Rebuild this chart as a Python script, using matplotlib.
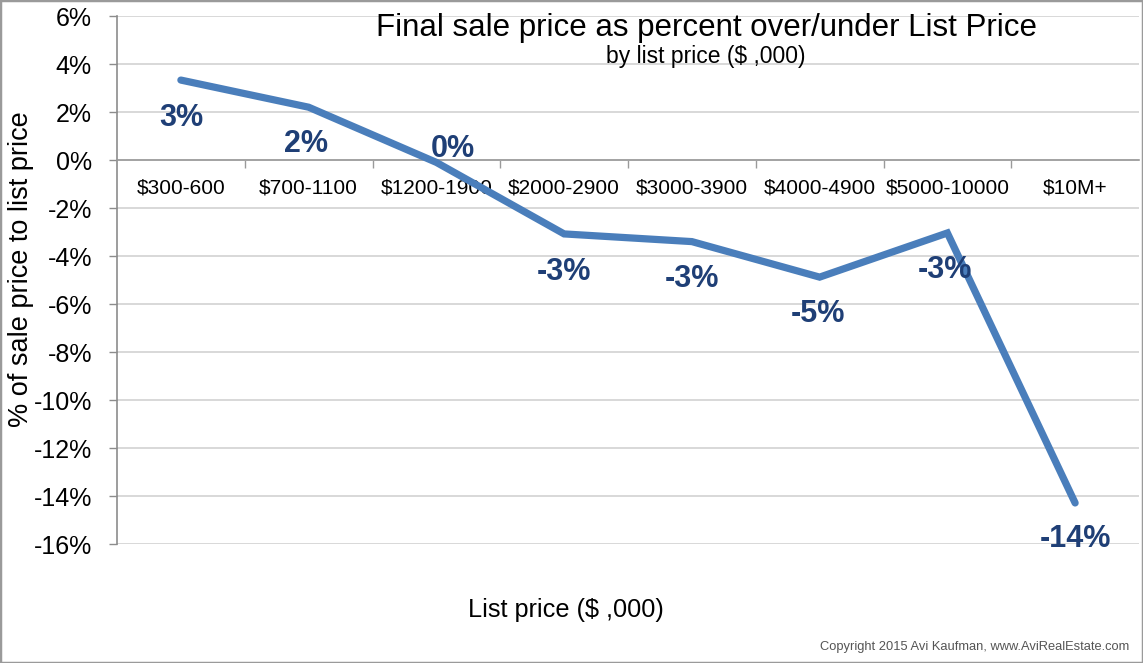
import matplotlib
matplotlib.use("Agg")
import numpy as np
import matplotlib.pyplot as plt
from matplotlib.patches import Rectangle
from matplotlib.ticker import FixedLocator

# data
categories = ["$300-600", "$700-1100", "$1200-1900", "$2000-2900",
              "$3000-3900", "$4000-4900", "$5000-10000", "$10M+"]
pct_over_list = [3.33, 2.2, -0.1, -3.08, -3.4, -4.88, -3.04, -14.29]
point_labels = ["3%", "2%", "0%", "-3%", "-3%", "-5%", "-3%", "-14%"]

# label offsets in pixels (keynote puts them under the point, 0% was moved)
label_dx = [0, -3, 16, 0, 0, -2, -2, 0]
label_dy = [-38, -37, 13, -38, -37, -37, -37, -36]

plt.rcParams['font.family'] = ['Liberation Sans', 'DejaVu Sans']

W, H = 1143, 663
fig = plt.figure(figsize=(W / 100, H / 100), dpi=100)
ax = fig.add_axes([117 / W, 119 / H, (1139 - 117) / W, (544 - 16) / H])

x = np.arange(len(categories))
ax.plot(x, pct_over_list, color='#4a7ebb', lw=5.2, solid_capstyle='round',
        solid_joinstyle='miter', zorder=3)

for xi, yi, lab, dx, dy in zip(x, pct_over_list, point_labels, label_dx, label_dy):
    ax.annotate(lab, (xi, yi), xytext=(dx, dy), textcoords='offset pixels',
                ha='center', va='center', fontsize=22, fontweight='bold',
                color='#1f3f76', zorder=4)

ax.set_xlim(-0.5, len(categories) - 0.5)
ax.set_ylim(-16, 6)
ax.set_yticks(np.arange(-16, 7, 2))
ax.set_yticklabels([f"{v}%" for v in range(-16, 7, 2)], fontsize=18)
ax.tick_params(axis='y', length=6, width=1, color='#8c8c8c', pad=12)

ax.yaxis.grid(True, color='#d2d2d2', lw=1.2)
ax.set_axisbelow(True)

for s in ['top', 'right']:
    ax.spines[s].set_visible(False)
ax.spines['left'].set_color('#8c8c8c')
ax.spines['left'].set_linewidth(1.2)
ax.spines['bottom'].set_position(('data', 0))
ax.spines['bottom'].set_color('#9a9a9a')
ax.spines['bottom'].set_linewidth(1.2)

ax.set_xticks(x)
ax.set_xticklabels(categories, fontsize=15)
ax.xaxis.set_minor_locator(FixedLocator(np.arange(0.5, len(categories) - 1, 1)))
ax.tick_params(axis='x', which='major', length=0, pad=13)
ax.tick_params(axis='x', which='minor', length=6, width=1, color='#9a9a9a')

fig.text(706 / W, 1 - 28 / H, "Final sale price as percent over/under List Price",
         ha='center', va='center', fontsize=22.5)
fig.text(706 / W, 1 - 57 / H, "by list price ($ ,000)",
         ha='center', va='center', fontsize=16.5)
fig.text(21 / W, 1 - 269 / H, "% of sale price to list price", rotation=90,
         ha='center', va='center', fontsize=19.5)
fig.text(566 / W, 1 - 610 / H, "List price ($ ,000)",
         ha='center', va='center', fontsize=18.2)
fig.text(1129 / W, 1 - 647 / H, "Copyright 2015 Avi Kaufman, www.AviRealEstate.com",
         ha='right', va='center', fontsize=9.3, color='#555555')

fig.patches.append(Rectangle((0, 0), 1, 1, transform=fig.transFigure, fill=False,
                             edgecolor='#9a9a9a', lw=2.5))

fig.savefig("out.png", dpi=100)
